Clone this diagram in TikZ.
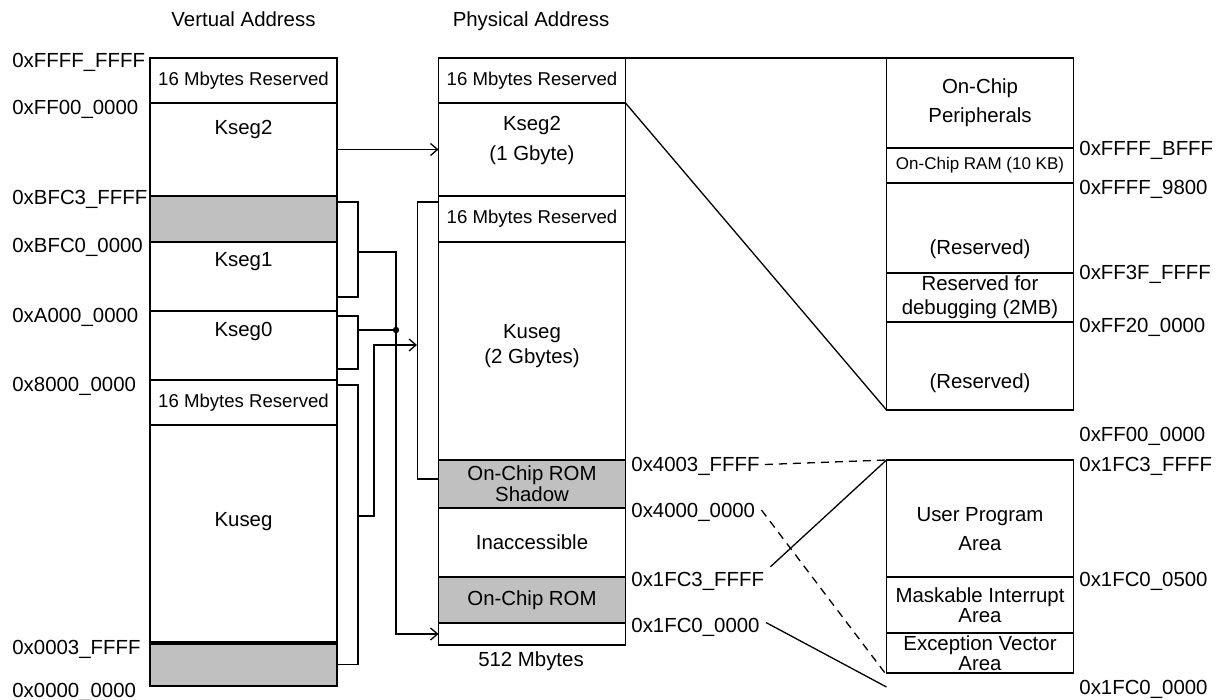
\documentclass[tikz,border=0pt]{standalone}
\usepackage{fontspec}
\setmainfont{Liberation Sans}
\usetikzlibrary{positioning,arrows.meta}
\definecolor{romgray}{RGB}{192,192,192}

\begin{document}
\begin{tikzpicture}[
x=0.5pt, y=-0.5pt,
node distance=0pt,
>={Straight Barb[length=3.5pt,width=6pt]},
font=\fontsize{10.2pt}{12pt}\selectfont,
cell/.style={draw, line width=0.9pt, rectangle, outer sep=0pt, inner sep=0.5pt, align=center, minimum width=93.5pt},
rom/.style={cell, fill=romgray},
resv/.style={font=\fontsize{9.3pt}{11pt}\selectfont},
ramtxt/.style={font=\fontsize{8.5pt}{10pt}\selectfont},
lead/.style={font=\fontsize{10.2pt}{#1}\selectfont},
txt/.style={inner sep=0pt, text height=7.3pt, text depth=0pt},
wire/.style={line width=0.65pt},
gap/.style={dash pattern=on 4pt off 3pt}
]
\useasboundingbox (0,0) rectangle (1225,700);

% titles
\node[txt] (vtitle) at (243.5,19) {Vertual Address};
\node[txt] (ptitle) at (531,19) {Physical Address};

% virtual address map
\node[cell, resv, minimum height=22.5pt] (vres1) at (243.5,80.5) {16 Mbytes Reserved};
\node[cell, minimum height=46.5pt, below=of vres1] (vk2) {};
\node[rom, minimum height=23pt, below=of vk2] (vgr1) {};
\node[cell, minimum height=34.5pt, below=of vgr1] (vk1) {};
\node[cell, minimum height=34.5pt, below=of vk1] (vk0) {};
\node[cell, resv, minimum height=22.5pt, below=of vk0] (vres2) {16 Mbytes Reserved};
\node[cell, minimum height=109pt, below=of vres2] (vku) {};
\node[rom, minimum height=21.5pt, below=of vku] (vgr2) {};
\draw[line width=1.6pt] (vgr2.north west) -- (vgr2.north east);

\node[txt] (vk2t) at (243.5,127.5) {Kseg2};
\node[txt] (vk1t) at (243.5,259.5) {Kseg1};
\node[txt] (vk0t) at (243.5,329.5) {Kseg0};
\node[txt] (vkut) at (243.5,519.5) {Kuseg};

\node[txt, anchor=west] (lvffff) at (12,60) {0xFFFF\_FFFF};
\node[txt, anchor=west] (lvff00) at (12,107) {0xFF00\_0000};
\node[txt, anchor=west] (lvbfc3) at (12,197) {0xBFC3\_FFFF};
\node[txt, anchor=west] (lvbfc0) at (12,245) {0xBFC0\_0000};
\node[txt, anchor=west] (lva000) at (12,315.5) {0xA000\_0000};
\node[txt, anchor=west] (lv8000) at (12,384.5) {0x8000\_0000};
\node[txt, anchor=west] (lv0003) at (12,647.5) {0x0003\_FFFF};
\node[txt, anchor=west] (lv0000) at (12,690) {0x0000\_0000};

% physical address map
\node[cell, resv, minimum height=22.5pt] (pres1) at (532,80.5) {16 Mbytes Reserved};
\node[cell, minimum height=46.5pt, below=of pres1] (pk2) {};
\node[cell, resv, minimum height=23pt, below=of pk2] (pres2) {16 Mbytes Reserved};
\node[cell, minimum height=109pt, below=of pres2] (pku) {};
\node[rom, lead=8.5pt, minimum height=24pt, below=of pku] (psh) {On-Chip ROM\\Shadow};
\node[cell, minimum height=34.5pt, below=of psh] (pina) {Inaccessible};
\node[rom, minimum height=23pt, below=of pina] (prom) {On-Chip ROM};
\node[cell, minimum height=11pt, below=of prom] (pbot) {};

\node[align=center, lead=15pt] (pk2t) at (532,140.5) {Kseg2\\(1 Gbyte)};
\node[align=center, lead=12.5pt] (pkut) at (532,346) {Kuseg\\(2 Gbytes)};
\node[txt] (psize) at (531,659) {512 Mbytes};

\node[txt, anchor=west] (l4003) at (631,464.5) {0x4003\_FFFF};
\node[txt, anchor=west] (l4000) at (631,510) {0x4000\_0000};
\node[txt, anchor=west] (l1fc3) at (631,579.5) {0x1FC3\_FFFF};
\node[txt, anchor=west] (l1fc0) at (631,625.5) {0x1FC0\_0000};

% upper detail
\node[cell, lead=14.5pt, minimum height=45pt] (rper) at (980,103) {On-Chip\\Peripherals};
\node[cell, ramtxt, minimum height=17.5pt, below=of rper] (rram) {On-Chip RAM (10 KB)};
\node[cell, minimum height=45pt, below=of rram] (rres1) {};
\node[cell, lead=12pt, minimum height=24.5pt, below=of rres1] (rdbg) {Reserved for\\debugging (2MB)};
\node[cell, minimum height=44pt, below=of rdbg] (rres2) {};
\node[txt] (rres1t) at (980,247) {(Reserved)};
\node[txt] (rres2t) at (980,381.5) {(Reserved)};

\node[txt, anchor=west] (lbfff) at (1079,148) {0xFFFF\_BFFF};
\node[txt, anchor=west] (l9800) at (1079,187.5) {0xFFFF\_9800};
\node[txt, anchor=west] (lff3f) at (1079,272.5) {0xFF3F\_FFFF};
\node[txt, anchor=west] (lff20) at (1079,325.5) {0xFF20\_0000};
\node[txt, anchor=west] (lff00) at (1079,434.5) {0xFF00\_0000};

% lower detail
\node[cell, minimum height=58.5pt] (rusr) at (980,518.5) {};
\node[cell, lead=10.25pt, minimum height=28pt, below=of rusr] (rmask) {Maskable Interrupt\\Area};
\node[cell, lead=10.25pt, minimum height=20pt, below=of rmask] (rexc) {Exception Vector\\Area};
\node[align=center, lead=14.5pt] (rusrt) at (980,529) {User Program\\Area};

\node[txt, anchor=west] (lr1fc3) at (1079,464) {0x1FC3\_FFFF};
\node[txt, anchor=west] (lr0500) at (1079,579.5) {0x1FC0\_0500};
\node[txt, anchor=west] (lr0000) at (1079,687.5) {0x1FC0\_0000};

% mapping
\coordinate (k1m) at (358,252);
\coordinate (k0m) at (358,330);
\coordinate (kum) at (358,516);
\coordinate (jn) at (396,330);
\coordinate (kup) at (374,345);
\coordinate (pin) at (417,345);

\draw[wire, ->] (vk2.east) -- (pk2.west);
\draw[wire] ([yshift=-3pt]vgr1.north east) -- ++(10.5pt,0) |- ([yshift=7pt]vk1.south east);
\draw[wire] ([yshift=-2.5pt]vk0.north east) -- ++(10.5pt,0) |- ([yshift=5.5pt]vk0.south east);
\draw[wire] ([yshift=-2.5pt]vres2.north east) -- ++(10.5pt,0) |- (vgr2.east);
\draw[wire] ([yshift=-3pt]pres2.north west) -- ++(-10.5pt,0) |- ([yshift=2.5pt]psh.west);

\draw[wire, ->] (k1m) -| (jn) |- (pbot.west);
\draw[wire] (k0m) -- (jn);
\fill (jn) circle (1.6pt);
\draw[wire, ->] (kum) -| (kup) -- (pin);

\draw[wire] (pres1.north east) -- (rper.north west);
\draw[wire] (pk2.north east) -- (rres2.south west);
\draw[wire, gap] ([xshift=2.5pt]l4003.east) -- (rusr.north west);
\draw[wire] ([xshift=3pt, yshift=2.5pt]l1fc3.north east) -- (rusr.north west);
\draw[wire, gap] ([xshift=3pt]l4000.east) -- ([yshift=-1pt]rexc.south west);
\draw[wire] ([xshift=3pt, yshift=1.5pt]l1fc0.east) -- ([yshift=-7pt]rexc.south west);

\end{tikzpicture}
\end{document}
